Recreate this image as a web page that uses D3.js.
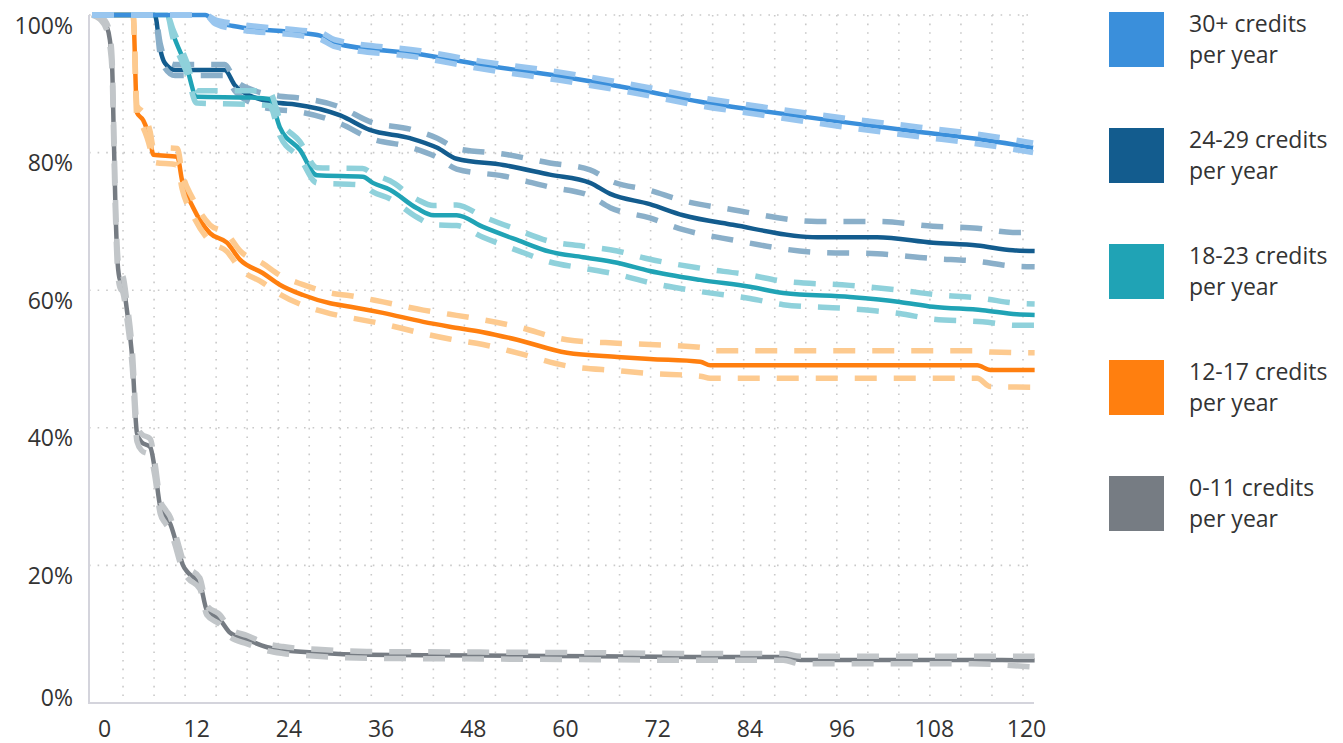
<!DOCTYPE html>
<html>
<head>
<meta charset="utf-8">
<script src="https://cdn.jsdelivr.net/npm/d3@7"></script>
<style>
    body { margin: 0; background: #fff; }
    text { font-family: "Open Sans", sans-serif; fill: #333; }
</style>
</head>
<body>
<svg id="chart" width="1343" height="743"></svg>
<script>

// legend labels, top to bottom
var categories = ["30+ credits", "24-29 credits", "18-23 credits", "12-17 credits", "0-11 credits"];
var xTicks = [0, 12, 24, 36, 48, 60, 72, 84, 96, 108, 120];
var yTicks = [0, 20, 40, 60, 80, 100];

// 30+ credits per year (months, survival %, lower and upper bound)
var m30 = [0, 14.6, 15.9, 18.2, 26.8, 29.4, 31.3, 42.3, 50.0, 60.3, 70.6, 78.4, 86.1, 96.4, 106.7, 114, 121.3];
var v30 = [100, 100, 99.0, 98.4, 97.4, 97.0, 95.9, 94.3, 92.8, 91.1, 89.1, 87.4, 86.1, 84.5, 83.0, 82.0, 80.7];
var lo30 = [100, 100, 98.7, 98.0, 97.0, 96.5, 95.4, 93.8, 92.2, 90.5, 88.5, 86.8, 85.5, 83.8, 82.3, 81.3, 80.0];
var hi30 = [100, 100, 99.3, 98.8, 97.8, 97.5, 96.4, 94.8, 93.3, 91.7, 89.7, 88.0, 86.7, 85.1, 83.7, 82.7, 81.4];

// 24-29 credits per year
var m24 = [0, 8.1, 8.8, 9.4, 10.7, 17.1, 18.4, 21.0, 24.2, 26.2, 32.0, 35.8, 41.0, 44.5, 47.0, 53.0, 59.0, 64.2, 66.8, 71.9, 76.2, 82.6, 93.5, 101.2, 108.4, 114.1, 118.7, 121.5];
var v24 = [100, 100, 95.0, 93.0, 92.0, 92.0, 89.8, 88.0, 87.2, 87.0, 85.4, 83.3, 82.1, 80.7, 79.1, 78.2, 76.8, 75.6, 74.0, 72.5, 70.9, 69.5, 67.7, 67.7, 66.9, 66.5, 65.8, 65.7];
var lo24 = [100, 100, 94.2, 92.3, 91.2, 91.2, 89.0, 87.0, 86.2, 86.0, 84.2, 82.1, 80.8, 79.3, 77.6, 76.6, 75.0, 73.7, 72.0, 70.5, 68.8, 67.3, 65.5, 65.3, 64.6, 64.2, 63.5, 63.4];
var hi24 = [100, 100, 95.8, 93.7, 92.8, 92.8, 90.6, 89.0, 88.2, 88.0, 86.6, 84.5, 83.4, 82.1, 80.6, 79.8, 78.5, 77.5, 75.9, 74.5, 73.0, 71.7, 70.0, 70.0, 69.3, 69.0, 68.4, 68.4];

// 18-23 credits per year
var m18 = [0, 9.7, 10.4, 12.2, 13.5, 20.4, 22.9, 24.2, 26.8, 29.0, 34.9, 36.2, 38.4, 41.9, 44.0, 47.0, 50.4, 54.8, 59.0, 63.3, 67.7, 71.9, 78.4, 84.8, 89.1, 97.7, 104.1, 108.4, 114.8, 119.2, 121.5];
var v18 = [100, 100, 97.4, 92.4, 88.1, 88.0, 87.8, 83.7, 80.4, 76.7, 76.5, 75.6, 74.6, 71.9, 70.9, 70.9, 69.2, 67.3, 65.6, 64.8, 64.0, 62.8, 61.5, 60.5, 59.6, 59.0, 58.3, 57.6, 57.1, 56.5, 56.4];
var lo18 = [100, 100, 96.8, 91.6, 87.2, 87.0, 86.8, 82.5, 79.2, 75.6, 75.3, 74.3, 73.3, 70.6, 69.5, 69.4, 67.7, 65.8, 64.1, 63.2, 62.3, 61.1, 59.8, 58.8, 57.9, 57.3, 56.6, 55.8, 55.4, 54.9, 54.9];
var hi18 = [100, 100, 98.0, 93.2, 89.0, 89.0, 88.8, 84.9, 81.6, 77.8, 77.7, 76.9, 75.9, 73.2, 72.3, 72.4, 70.7, 68.8, 67.1, 66.4, 65.7, 64.5, 63.2, 62.2, 61.3, 60.7, 60.0, 59.4, 58.8, 58.1, 58.0];

// 12-17 credits per year
var m12 = [0, 5.3, 5.8, 6.6, 7.5, 7.9, 11.0, 11.6, 13.0, 15.2, 17.4, 19.1, 22.0, 24.2, 27.2, 30.7, 33.3, 37.5, 42.7, 46.1, 50.4, 54.8, 61.2, 67.7, 71.9, 78.4, 79.7, 114.1, 115.8, 121.5];
var v12 = [100, 100, 85.8, 84.7, 81.8, 79.7, 79.4, 76.0, 72.1, 68.3, 66.9, 64.4, 62.5, 60.8, 59.3, 58.1, 57.6, 56.7, 55.4, 54.7, 53.9, 52.8, 50.9, 50.3, 50.0, 49.6, 49.1, 49.1, 48.4, 48.4];
var lo12 = [100, 100, 84.8, 83.6, 80.6, 78.6, 78.2, 74.8, 70.9, 67.1, 65.6, 63.1, 61.1, 59.4, 57.8, 56.6, 56.0, 55.1, 53.7, 52.9, 52.1, 50.9, 49.0, 48.3, 47.9, 47.5, 47.2, 47.2, 46.0, 45.9];
var hi12 = [100, 100, 86.8, 85.8, 83.0, 80.8, 80.6, 77.2, 73.3, 69.5, 68.2, 65.7, 63.9, 62.2, 60.8, 59.6, 59.2, 58.3, 57.1, 56.5, 55.7, 54.7, 52.8, 52.3, 52.1, 51.7, 51.2, 51.2, 51.0, 50.9];

// 0-11 credits per year
var m0 = [0, 1.0, 1.9, 2.3, 2.6, 2.8, 3.0, 3.3, 3.6, 4.0, 4.5, 5.2, 5.8, 6.4, 7.5, 8.1, 8.8, 9.4, 10.1, 10.8, 11.3, 11.7, 12.4, 13.9, 14.8, 16.5, 17.8, 20.0, 22.6, 24.6, 29.0, 35.4, 50, 65, 78.4, 89.1, 91.3, 113.4, 121.5];
var v0 = [100, 99.6, 98.3, 96.4, 92.4, 82.8, 73.1, 64.0, 61.5, 60.8, 57.1, 49.9, 39.2, 37.9, 37.2, 34.0, 28.5, 27.2, 26.0, 23.5, 21.5, 20.1, 18.9, 17.4, 13.5, 12.1, 10.2, 9.2, 8.1, 7.7, 7.3, 7.0, 6.9, 6.8, 6.7, 6.7, 6.25, 6.25, 6.2];
var lo0 = [100, 99.4, 97.8, 95.6, 91.4, 81.6, 71.9, 62.8, 60.4, 59.6, 55.9, 48.7, 38.0, 36.7, 36.0, 33.0, 27.5, 26.2, 25.0, 22.6, 20.6, 19.3, 18.1, 16.6, 12.8, 11.4, 9.6, 8.6, 7.6, 7.2, 6.8, 6.5, 6.4, 6.3, 6.2, 6.2, 5.7, 5.7, 5.2];
var hi0 = [100, 99.8, 98.8, 97.2, 93.4, 84.0, 74.3, 65.2, 62.6, 62.0, 58.3, 51.1, 40.4, 39.1, 38.4, 35.0, 29.5, 28.2, 27.0, 24.4, 22.4, 20.9, 19.7, 18.2, 14.2, 12.8, 10.8, 9.8, 8.6, 8.2, 7.8, 7.5, 7.4, 7.3, 7.2, 7.2, 6.8, 6.8, 6.8];

// colours: solid line, then the lighter dashed bounds
var mainColors = ["#3a8fdb", "#135c8e", "#20a3b5", "#ff7f0f", "#767c83"];
var bandColors = ["#99c6ef", "#8aafc9", "#8fd1db", "#fdca8f", "#c2c6c9"];

var series = [
    {months: m30, main: v30, lo: lo30, hi: hi30},
    {months: m24, main: v24, lo: lo24, hi: hi24},
    {months: m18, main: v18, lo: lo18, hi: hi18},
    {months: m12, main: v12, lo: lo12, hi: hi12},
    {months: m0, main: v0, lo: lo0, hi: hi0}
];

var svg = d3.select("#chart");

// scales
var x = d3.scaleLinear().domain([0, 120]).range([92, 1023]);
var xLab = d3.scaleLinear().domain([0, 120]).range([104, 1026]);
var y = d3.scaleLinear().domain([0, 100]).range([703, 15]);
var xEnd = 1034;

// dotted grid
var grid = svg.append("g");
grid.selectAll("line.v").data(d3.range(4, 121, 4)).enter().append("line")
    .attr("x1", function(d) { return x(d); })
    .attr("x2", function(d) { return x(d); })
    .attr("y1", y(100)).attr("y2", y(0))
    .attr("stroke", "#c9c9c9").attr("stroke-width", 1.6)
    .attr("stroke-dasharray", "1.6,7");
grid.selectAll("line.h").data(yTicks.slice(1)).enter().append("line")
    .attr("x1", x(0) - 3).attr("x2", xEnd)
    .attr("y1", function(d) { return y(d); })
    .attr("y2", function(d) { return y(d); })
    .attr("stroke", "#c9c9c9").attr("stroke-width", 1.6)
    .attr("stroke-dasharray", "1.6,7");

// axis lines
svg.append("line").attr("x1", x(0) - 3).attr("x2", x(0) - 3)
    .attr("y1", y(100)).attr("y2", y(0) + 1)
    .attr("stroke", "#d4d4dc").attr("stroke-width", 2);
svg.append("line").attr("x1", x(0) - 4).attr("x2", xEnd)
    .attr("y1", y(0)).attr("y2", y(0))
    .attr("stroke", "#d4d4dc").attr("stroke-width", 2);

// tick labels
var xAxis = svg.append("g").attr("transform", "translate(0," + y(0) + ")")
    .call(d3.axisBottom(xLab).tickValues(xTicks).tickSize(0));
xAxis.select(".domain").remove();
xAxis.selectAll("text").attr("y", 34).attr("dy", 0)
    .style("font-size", "23px").attr("fill", "#333");

var yAxis = svg.append("g").attr("transform", "translate(73,0)")
    .call(d3.axisLeft(y).tickValues(yTicks).tickSize(0).tickPadding(0)
        .tickFormat(function(d) { return d + "%"; }));
yAxis.select(".domain").remove();
yAxis.selectAll("text")
    .attr("dy", 0)
    .attr("y", function(d) { return d === 0 ? 2 : 18; })
    .style("font-size", "23px").attr("fill", "#333");

// curves: solid estimate with dashed bounds on top
var line = d3.line()
    .x(function(d) { return x(d[0]); })
    .y(function(d) { return y(d[1]); })
    .curve(d3.curveMonotoneX);

var drawOrder = [4, 3, 1, 2, 0];
drawOrder.forEach(function(i) {
    var s = series[i];
    var g = svg.append("g");
    g.append("path")
        .attr("d", line(d3.zip(s.months, s.main)))
        .attr("fill", "none")
        .attr("stroke", mainColors[i])
        .attr("stroke-width", 4.5)
        .attr("stroke-linejoin", "round");
    [s.lo, s.hi].forEach(function(b) {
        g.append("path")
            .attr("d", line(d3.zip(s.months, b)))
            .attr("fill", "none")
            .attr("stroke", bandColors[i])
            .attr("stroke-width", 5.5)
            .attr("stroke-dasharray", "22,17");
    });
});

// legend
var legend = svg.selectAll("g.legend").data(categories).enter().append("g")
    .attr("class", "legend")
    .attr("transform", function(d, i) { return "translate(1109," + (12 + i * 116) + ")"; });
legend.append("rect")
    .attr("width", 55).attr("height", 55)
    .attr("fill", function(d, i) { return mainColors[i]; });
legend.append("text").attr("x", 80).attr("y", 20)
    .style("font-size", "23px").text(function(d) { return d; });
legend.append("text").attr("x", 80).attr("y", 51)
    .style("font-size", "23px").text("per year");

</script>
</body>
</html>
